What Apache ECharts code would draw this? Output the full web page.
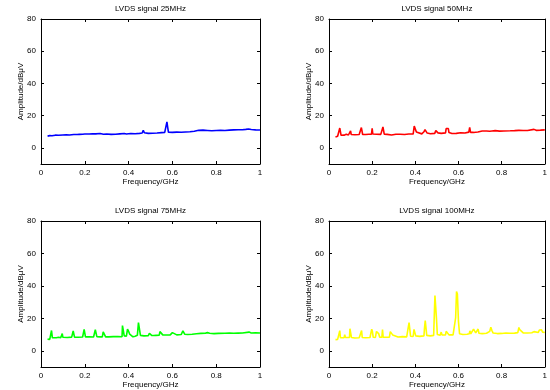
<!DOCTYPE html>
<html>
<head>
<meta charset="utf-8">
<script src="https://cdn.jsdelivr.net/npm/echarts@6/dist/echarts.min.js"></script>
<style>
  html, body { margin: 0; padding: 0; background: #fff; }
  #chart { width: 550px; height: 390px; }
</style>
</head>
<body>
<div id="chart"></div>
<script>
// Spectrum panel titles and trace colours
const titles = ['LVDS signal 25MHz', 'LVDS signal 50MHz', 'LVDS signal 75MHz', 'LVDS signal 100MHz'];
const colors = ['#0000ff', '#ff0000', '#00ff00', '#ffff00'];
const xTicks = [0, 0.2, 0.4, 0.6, 0.8, 1];
const yTicks = [0, 20, 40, 60, 80];

// [frequency GHz, amplitude dBμV]
const sig25 = [[0.03,7.3],[0.04,7.6],[0.05,7.5],[0.065,7.9],[0.08,7.8],[0.1,8.0],[0.115,8.1],[0.13,8.0],[0.15,8.3],[0.165,8.3],[0.17,9.4],[0.175,8.4],[0.19,8.5],[0.2,8.6],[0.22,8.6],[0.228,9.4],[0.235,8.8],[0.25,8.7],[0.27,8.9],[0.275,9.2],[0.285,8.5],[0.3,8.6],[0.32,8.4],[0.34,8.5],[0.36,8.7],[0.38,8.9],[0.39,8.6],[0.41,8.9],[0.43,8.8],[0.45,9.0],[0.462,9.2],[0.467,10.9],[0.472,9.4],[0.49,9.0],[0.51,9.1],[0.53,9.2],[0.55,9.5],[0.565,9.6],[0.572,9.9],[0.575,16.1],[0.578,13.2],[0.582,9.7],[0.6,9.6],[0.62,9.8],[0.64,9.7],[0.66,9.9],[0.68,10.0],[0.7,10.3],[0.72,10.9],[0.74,11.0],[0.76,10.8],[0.78,10.6],[0.8,10.8],[0.82,10.9],[0.84,10.8],[0.86,11.0],[0.88,11.2],[0.9,11.3],[0.92,11.3],[0.935,11.5],[0.94,12.4],[0.948,11.7],[0.96,11.4],[0.98,11.2],[1.0,11.1]];

const sig50 = [[0.03,6.8],[0.04,7.2],[0.047,7.6],[0.05,12.3],[0.053,12.0],[0.056,7.8],[0.07,7.9],[0.08,8.4],[0.09,8.0],[0.097,8.2],[0.1,10.6],[0.103,8.3],[0.12,8.2],[0.14,8.3],[0.147,8.4],[0.15,12.6],[0.153,12.2],[0.156,8.3],[0.17,8.3],[0.185,8.5],[0.197,8.5],[0.2,12.2],[0.203,8.6],[0.22,8.5],[0.24,8.4],[0.247,8.6],[0.25,13.0],[0.253,12.5],[0.256,8.5],[0.27,8.4],[0.29,8.0],[0.31,8.5],[0.33,8.5],[0.35,8.3],[0.37,8.6],[0.39,8.6],[0.395,13.5],[0.4,12.8],[0.405,9.8],[0.41,8.6],[0.43,8.7],[0.44,10.0],[0.445,11.3],[0.45,11.6],[0.455,9.2],[0.47,8.8],[0.49,9.0],[0.495,10.7],[0.5,10.3],[0.505,9.3],[0.52,9.0],[0.54,9.3],[0.543,12.0],[0.548,11.5],[0.553,12.0],[0.556,9.5],[0.57,8.9],[0.59,9.0],[0.61,9.4],[0.63,9.2],[0.648,9.8],[0.652,12.7],[0.656,9.6],[0.67,9.6],[0.69,9.9],[0.71,10.5],[0.73,10.5],[0.745,10.3],[0.75,11.3],[0.755,10.5],[0.77,10.7],[0.775,11.0],[0.79,10.4],[0.81,10.5],[0.84,10.6],[0.86,10.7],[0.88,10.9],[0.9,10.8],[0.92,10.8],[0.95,11.5],[0.96,10.9],[0.98,11.0],[1.0,11.2]];

const sig75 = [[0.03,7.2],[0.04,7.0],[0.046,7.5],[0.048,12.5],[0.052,8.0],[0.06,7.8],[0.07,8.0],[0.08,8.3],[0.09,8.0],[0.095,8.2],[0.097,10.6],[0.1,8.3],[0.12,8.2],[0.14,8.4],[0.145,8.4],[0.147,12.2],[0.15,12.0],[0.153,8.4],[0.17,8.3],[0.19,8.5],[0.195,8.6],[0.197,13.2],[0.2,12.8],[0.203,8.6],[0.22,8.6],[0.24,8.5],[0.245,8.6],[0.248,13.0],[0.252,12.4],[0.255,8.7],[0.27,8.6],[0.28,8.6],[0.284,11.6],[0.29,11.0],[0.295,8.6],[0.31,8.6],[0.33,8.7],[0.35,8.8],[0.37,8.6],[0.372,15.5],[0.376,14.8],[0.38,9.2],[0.39,9.0],[0.395,13.4],[0.4,12.0],[0.405,10.2],[0.41,9.0],[0.42,8.6],[0.43,9.0],[0.44,9.5],[0.445,17.4],[0.45,17.0],[0.454,9.5],[0.47,9.2],[0.49,9.3],[0.495,10.8],[0.5,10.4],[0.505,9.5],[0.515,9.4],[0.52,10.2],[0.525,9.5],[0.54,9.6],[0.543,11.8],[0.548,11.0],[0.552,11.6],[0.556,9.8],[0.57,9.7],[0.59,9.8],[0.6,11.2],[0.605,10.0],[0.62,9.8],[0.64,10.0],[0.648,12.3],[0.652,12.5],[0.656,10.2],[0.67,10.0],[0.69,10.2],[0.71,10.5],[0.73,10.7],[0.75,10.8],[0.76,11.2],[0.77,10.8],[0.79,10.6],[0.81,10.7],[0.84,10.8],[0.86,10.9],[0.88,10.8],[0.9,10.9],[0.92,11.0],[0.95,11.5],[0.96,11.0],[0.98,11.1],[1.0,11.0]];

const sig100 = [[0.03,6.9],[0.035,6.6],[0.04,7.0],[0.046,7.4],[0.05,12.4],[0.053,8.0],[0.06,7.8],[0.07,8.1],[0.073,10.0],[0.076,8.2],[0.085,8.0],[0.095,8.2],[0.097,13.6],[0.1,13.0],[0.104,8.2],[0.12,7.9],[0.14,8.0],[0.148,8.1],[0.151,12.5],[0.154,8.2],[0.17,8.0],[0.19,8.2],[0.195,8.2],[0.198,13.3],[0.201,12.0],[0.205,8.3],[0.215,8.2],[0.22,11.9],[0.225,11.2],[0.23,10.6],[0.235,8.3],[0.245,8.3],[0.248,13.0],[0.251,8.4],[0.27,8.3],[0.28,8.4],[0.284,11.8],[0.29,10.8],[0.295,9.8],[0.3,8.6],[0.32,8.5],[0.34,8.7],[0.36,8.6],[0.368,8.8],[0.371,17.3],[0.375,16.5],[0.378,9.0],[0.39,8.8],[0.394,13.2],[0.398,12.0],[0.402,9.2],[0.42,8.9],[0.44,9.2],[0.442,13.0],[0.446,18.6],[0.45,17.8],[0.453,9.5],[0.47,9.2],[0.485,9.5],[0.488,22.0],[0.491,34.0],[0.495,33.5],[0.498,20.0],[0.502,10.0],[0.515,9.6],[0.52,11.5],[0.524,9.7],[0.54,9.8],[0.543,12.0],[0.548,11.8],[0.552,11.5],[0.556,9.8],[0.575,9.8],[0.583,11.0],[0.587,20.5],[0.591,36.5],[0.595,35.0],[0.6,18.0],[0.605,10.5],[0.62,10.0],[0.64,10.2],[0.65,10.5],[0.653,12.3],[0.657,10.5],[0.665,11.0],[0.67,13.3],[0.675,13.0],[0.68,11.0],[0.688,10.6],[0.691,13.4],[0.695,10.8],[0.71,10.6],[0.73,10.8],[0.745,12.0],[0.75,14.5],[0.755,12.5],[0.76,11.0],[0.78,10.6],[0.8,10.7],[0.82,11.0],[0.84,10.8],[0.86,10.9],[0.875,11.2],[0.88,14.4],[0.884,13.0],[0.89,12.2],[0.9,11.0],[0.92,11.0],[0.94,11.1],[0.95,11.8],[0.955,11.1],[0.97,11.3],[0.975,12.8],[0.98,12.2],[0.985,12.9],[0.99,11.5],[1.0,11.3]];

const signals = [sig25, sig50, sig75, sig100];

// Panel rectangles (px) in a 2x2 layout
const panels = [
  { left: 41,  top: 19,  width: 219, height: 145 },
  { left: 329, top: 19,  width: 220, height: 145 },
  { left: 41,  top: 221, width: 219, height: 146 },
  { left: 329, top: 221, width: 220, height: 146 }
];

const font = 'Liberation Sans, Arial, Helvetica, sans-serif';
const lineStyle = { color: '#000', width: 1 };

const grid = [], xAxis = [], yAxis = [], series = [];
panels.forEach((p, i) => {
  grid.push(Object.assign({ containLabel: false }, p));
  // bottom x axis with labels
  xAxis.push({
    type: 'value', gridIndex: i, position: 'bottom', min: 0, max: 1, interval: 0.2,
    axisLine: { show: true, onZero: false, lineStyle },
    axisTick: { show: true, inside: true, length: 3, lineStyle },
    axisLabel: { show: true, margin: 5, color: '#000', fontFamily: font, fontSize: 8,
      formatter: v => String(+v.toFixed(1)) },
    splitLine: { show: false },
    name: 'Frequency/GHz', nameLocation: 'middle', nameGap: 14, nameMoveOverlap: false,
    nameTextStyle: { color: '#000', fontFamily: font, fontSize: 8 }
  });
  // top x axis: box edge, ticks, and the panel title
  xAxis.push({
    type: 'value', gridIndex: i, position: 'top', min: 0, max: 1, interval: 0.2,
    axisLine: { show: true, onZero: false, lineStyle },
    axisTick: { show: true, inside: true, length: 3, lineStyle },
    axisLabel: { show: false },
    splitLine: { show: false },
    name: titles[i], nameLocation: 'middle', nameGap: 6,
    nameTextStyle: { color: '#000', fontFamily: font, fontSize: 8 }
  });
  // left y axis with labels
  yAxis.push({
    type: 'value', gridIndex: i, position: 'left', min: -10, max: 80,
    axisLine: { show: true, onZero: false, lineStyle },
    axisTick: { show: true, inside: true, length: 3, lineStyle, customValues: yTicks },
    axisLabel: { show: true, margin: 5, color: '#000', fontFamily: font, fontSize: 8, customValues: yTicks },
    splitLine: { show: false },
    name: 'Amplitude/dBμV', nameLocation: 'middle', nameGap: 16, nameRotate: 90, nameMoveOverlap: false,
    nameTextStyle: { color: '#000', fontFamily: font, fontSize: 8 }
  });
  // right y axis: box edge and ticks
  yAxis.push({
    type: 'value', gridIndex: i, position: 'right', min: -10, max: 80,
    axisLine: { show: true, onZero: false, lineStyle },
    axisTick: { show: true, inside: true, length: 3, lineStyle, customValues: yTicks },
    axisLabel: { show: false },
    splitLine: { show: false }
  });
  series.push({
    type: 'line', xAxisIndex: i * 2, yAxisIndex: i * 2,
    data: signals[i], showSymbol: false, symbol: 'none', animation: false,
    lineStyle: { color: colors[i], width: 1.6 }
  });
});

const chart = echarts.init(document.getElementById('chart'), null, { renderer: 'canvas' });
chart.setOption({ animation: false, backgroundColor: '#fff', grid, xAxis, yAxis, series });
</script>
</body>
</html>
